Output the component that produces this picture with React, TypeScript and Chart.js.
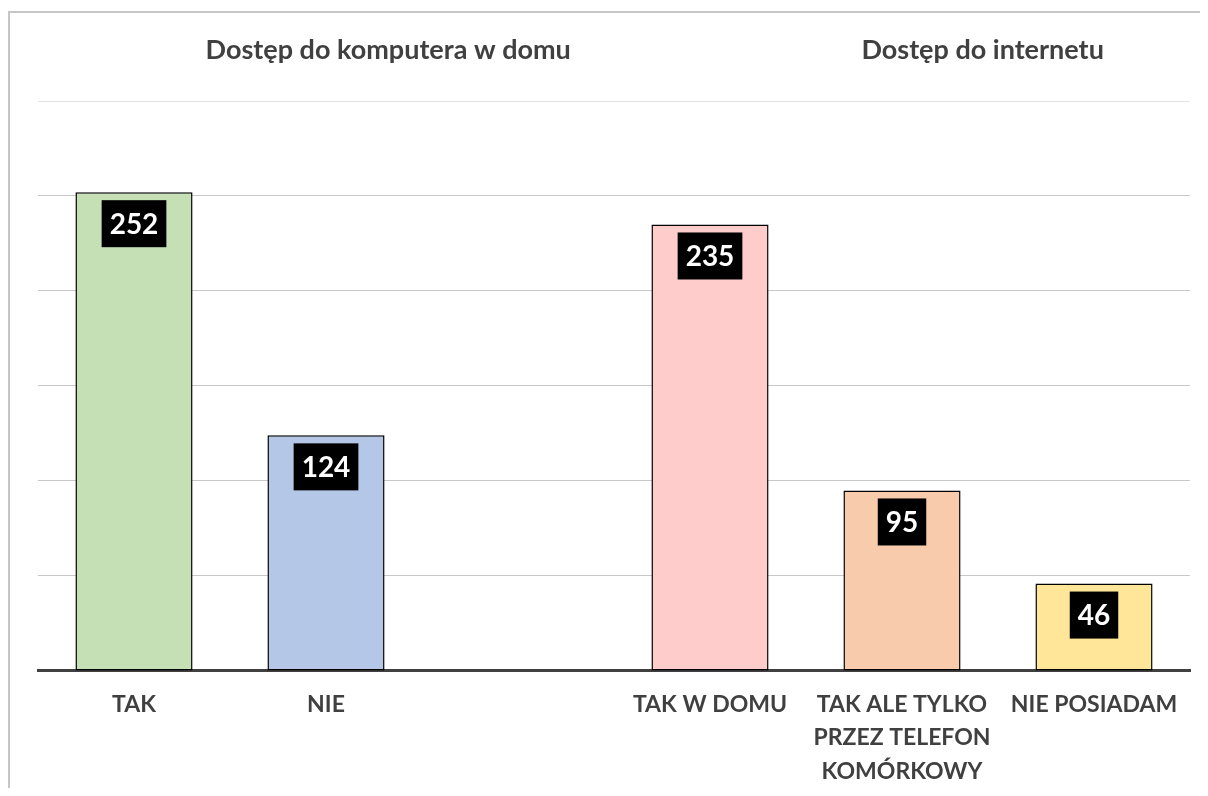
import React, { useEffect, useRef } from "react";
import { Chart, registerables } from "chart.js";

Chart.register(...registerables);

const categories: (string | string[])[] = [
  "TAK",
  "NIE",
  "",
  "TAK W DOMU",
  ["TAK ALE TYLKO", "PRZEZ TELEFON", "KOMÓRKOWY"],
  "NIE POSIADAM",
];
const values: (number | null)[] = [252, 124, null, 235, 95, 46];
const barColors = ["#c5e0b4", "#b4c7e7", "#ffffff", "#ffcccc", "#f8cbad", "#ffe699"];
const groupTitles = ["Dostęp do komputera w domu", "Dostęp do internetu"];
const groupTitlePos = [0.304, 0.82];

const FONT = "Lato, 'Open Sans', sans-serif";

const labelPlugin = {
  id: "boxLabels",
  afterDatasetsDraw(chart: any) {
    const ctx = chart.ctx;
    const meta = chart.getDatasetMeta(0);
    ctx.save();
    ctx.font = `bold 28px ${FONT}`;
    meta.data.forEach((el: any, i: number) => {
      const v = values[i];
      if (v === null || v === undefined) return;
      const text = String(v);
      const w = ctx.measureText(text).width + 16;
      const h = 47;
      const x = el.x - w / 2;
      const y = el.y + 8;
      ctx.fillStyle = "#000000";
      ctx.fillRect(x, y, w, h);
      ctx.fillStyle = "#ffffff";
      ctx.textAlign = "center";
      ctx.textBaseline = "middle";
      ctx.fillText(text, el.x, y + h / 2 + 1);
    });
    ctx.restore();
  },
};

const titlePlugin = {
  id: "groupTitles",
  afterDraw(chart: any) {
    const ctx = chart.ctx;
    const ca = chart.chartArea;
    ctx.save();
    ctx.font = `bold 27px ${FONT}`;
    ctx.fillStyle = "#404040";
    ctx.textAlign = "center";
    ctx.textBaseline = "middle";
    groupTitles.forEach((t, i) => {
      ctx.fillText(t, ca.left + (ca.right - ca.left) * groupTitlePos[i], 37);
    });
    ctx.restore();
  },
};

export default function App() {
  const ref = useRef<HTMLCanvasElement | null>(null);
  useEffect(() => {
    if (!ref.current) return;
    const chart = new Chart(ref.current, {
      type: "bar",
      data: {
        labels: categories,
        datasets: [
          {
            data: values,
            backgroundColor: barColors,
            borderColor: "#000000",
            borderWidth: 1.5,
            borderSkipped: false,
            categoryPercentage: 1,
            barPercentage: 0.61,
          },
        ],
      },
      options: {
        animation: false,
        responsive: true,
        maintainAspectRatio: false,
        layout: { padding: { top: 88, right: 10, left: 28, bottom: -9 } },
        plugins: {
          legend: { display: false },
          tooltip: { enabled: false },
          title: { display: false },
        },
        scales: {
          x: {
            z: 1,
            grid: { display: false },
            border: { display: true, color: "#404040", width: 3 },
            ticks: {
              color: "#404040",
              font: { family: FONT, size: 23, weight: "bold", lineHeight: 1.45 },
              padding: 9,
              maxRotation: 0,
              autoSkip: false,
            },
          },
          y: {
            min: 0,
            max: 300,
            ticks: { display: false, stepSize: 50 },
            grid: {
              color: (c: any) => (c.tick && c.tick.value === 300 ? "#e3e3e3" : "#c8c8c8"),
              lineWidth: 1,
              drawTicks: false,
            },
            border: { display: false },
          },
        },
      },
      plugins: [labelPlugin, titlePlugin],
    });
    return () => chart.destroy();
  }, []);
  return (
    <div style={{ paddingTop: 3 }}>
      <div
        style={{
          borderLeft: "2px solid #c6c6c6",
          borderTop: "2px solid #c6c6c6",
          width: 1190,
          height: 775,
          position: "relative",
        }}
      >
        <canvas ref={ref} />
      </div>
    </div>
  );
}
